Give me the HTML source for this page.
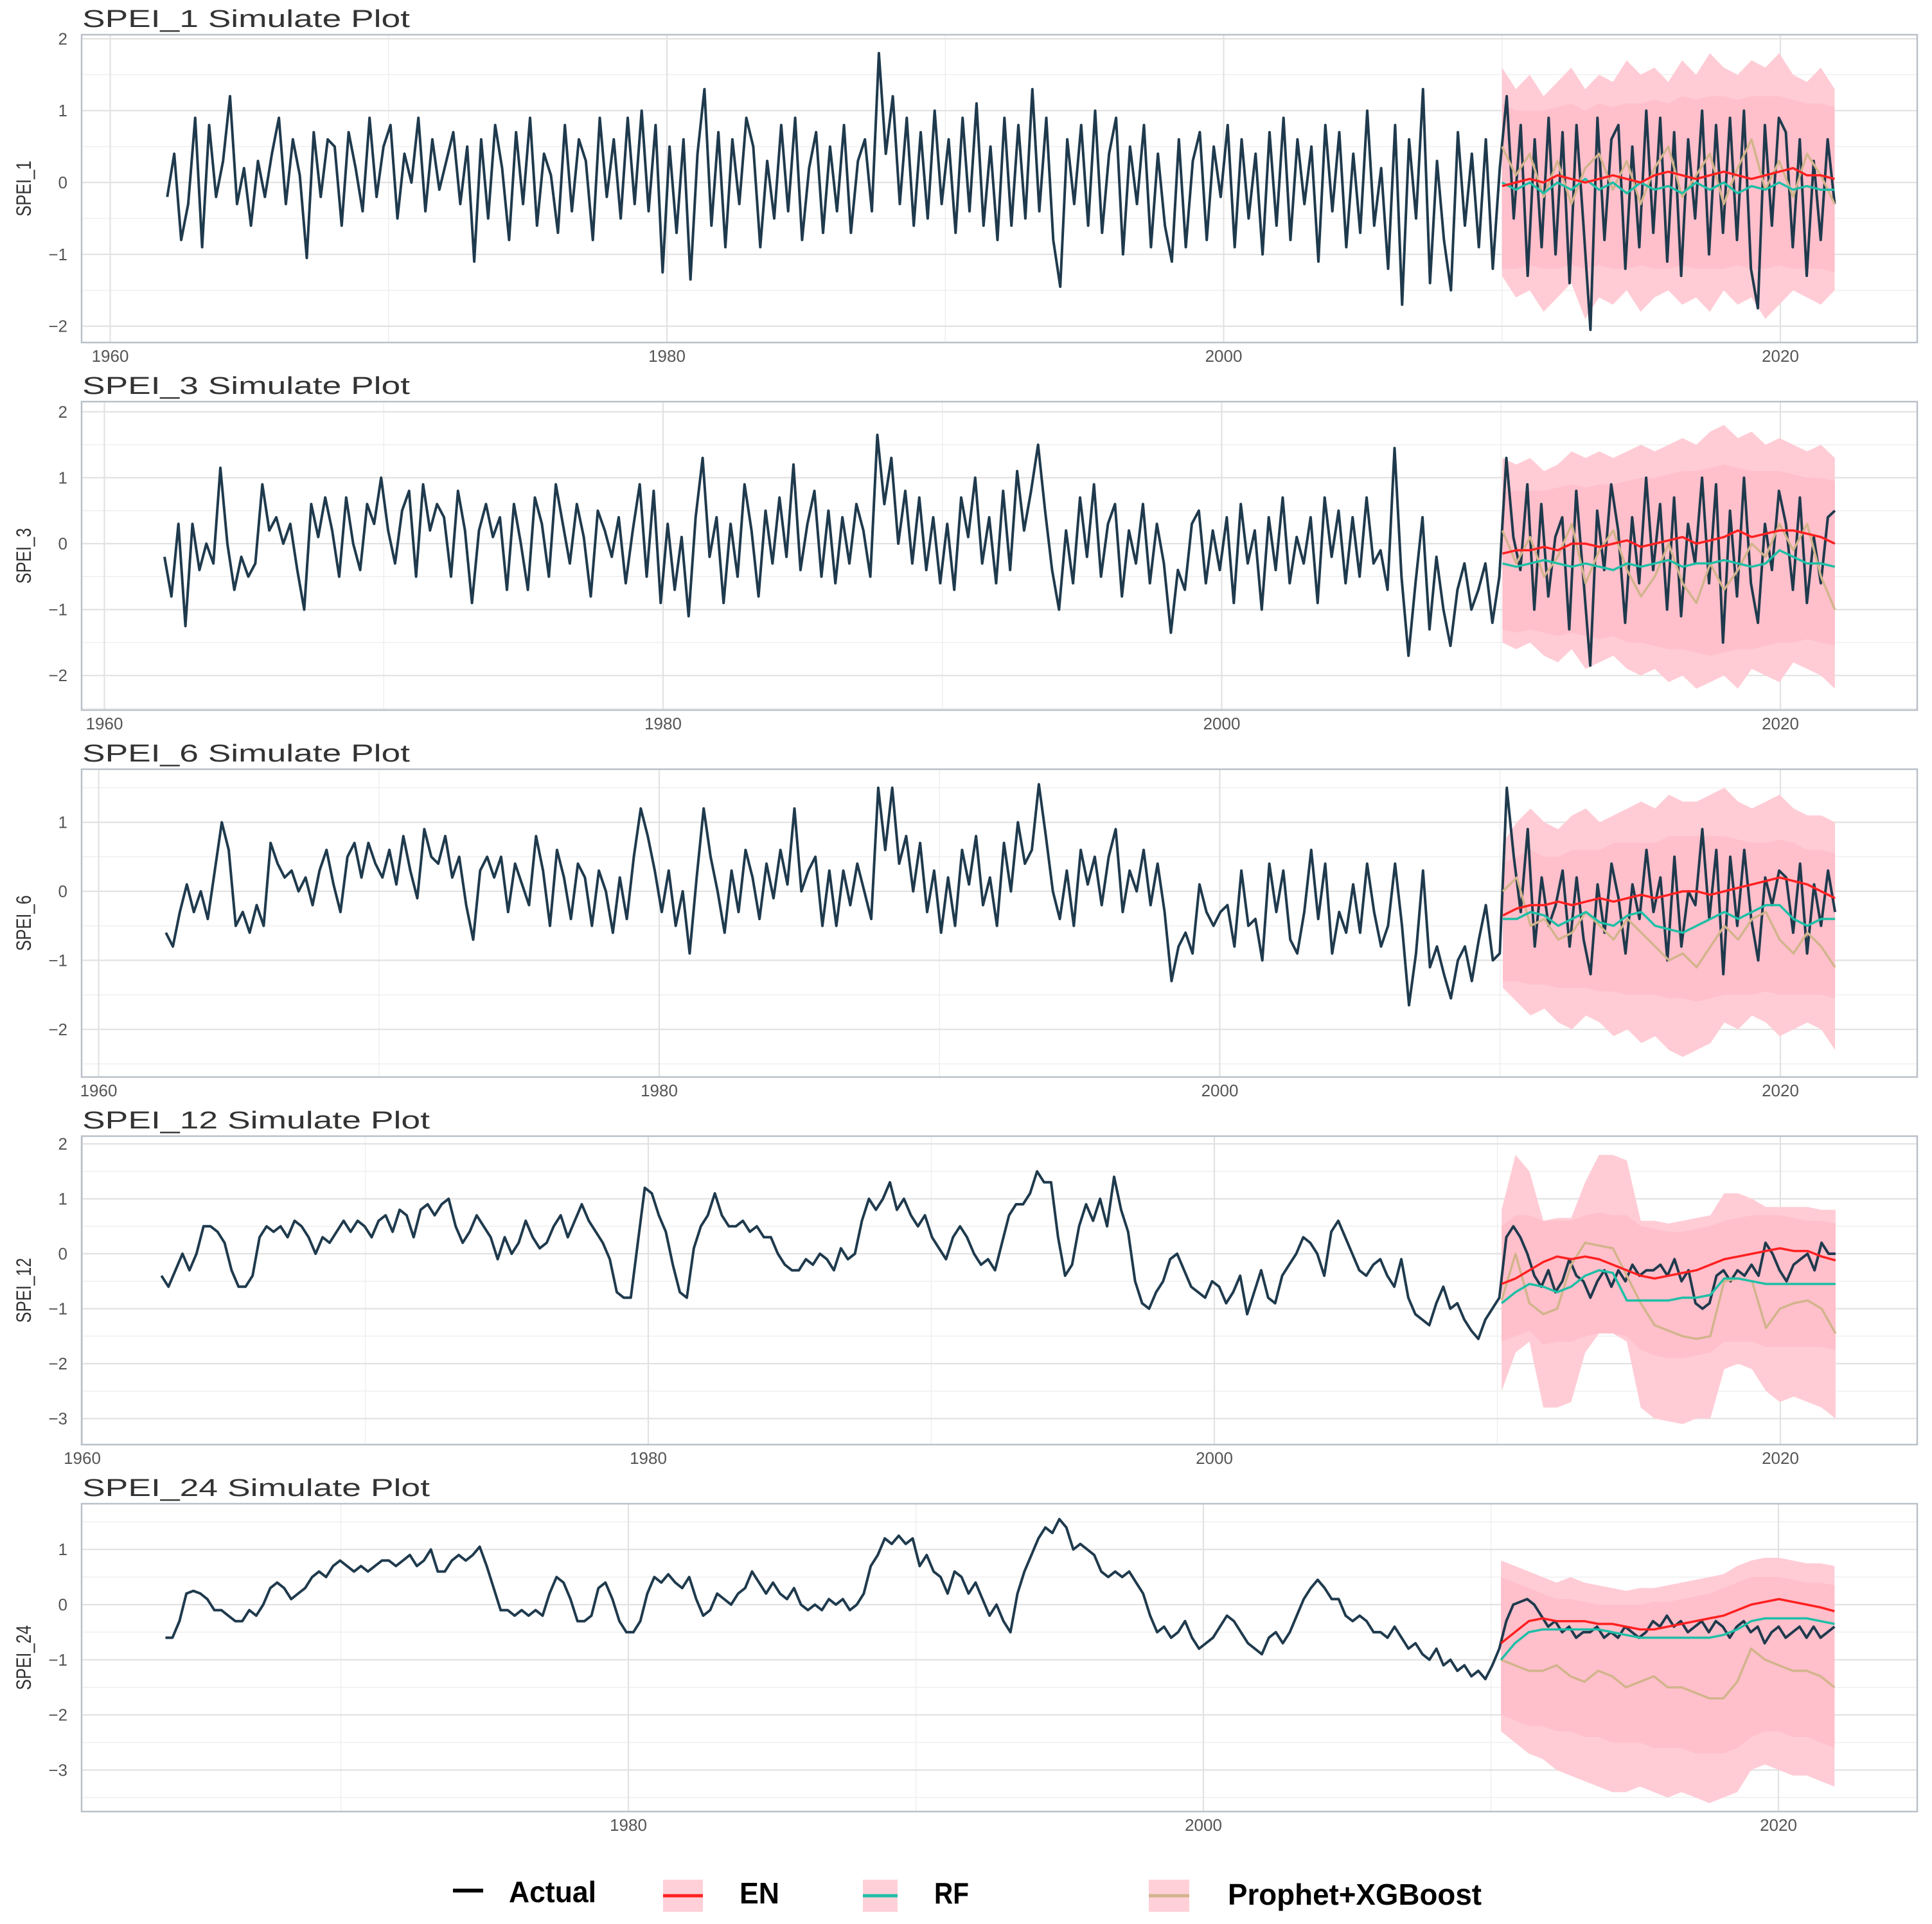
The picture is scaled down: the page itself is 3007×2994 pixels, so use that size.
<!DOCTYPE html>
<html><head><meta charset="utf-8">
<style>
html,body{margin:0;padding:0;background:#fff;}
svg{display:block;font-family:"Liberation Sans",sans-serif;}
</style></head>
<body>
<svg id="chart" width="3007" height="2994" viewBox="0 0 3007 2994" xmlns="http://www.w3.org/2000/svg">
<g font-size="46" fill="#000" font-weight="bold">
  <line x1="705" y1="2942" x2="752" y2="2942" stroke="#000" stroke-width="6"/>
  <text x="792" y="2960" textLength="136" lengthAdjust="spacingAndGlyphs">Actual</text>
  <rect x="1032" y="2925" width="62" height="50" fill="#FFD0D8"/>
  <line x1="1032" y1="2950" x2="1094" y2="2950" stroke="#FF2020" stroke-width="5"/>
  <text x="1151" y="2962" textLength="62" lengthAdjust="spacingAndGlyphs">EN</text>
  <rect x="1343" y="2925" width="54" height="50" fill="#FFD0D8"/>
  <line x1="1343" y1="2950" x2="1397" y2="2950" stroke="#1DBFA6" stroke-width="5"/>
  <text x="1454" y="2962" textLength="54" lengthAdjust="spacingAndGlyphs">RF</text>
  <rect x="1788" y="2925" width="63" height="50" fill="#FFD0D8"/>
  <line x1="1788" y1="2950" x2="1851" y2="2950" stroke="#D2B48C" stroke-width="5"/>
  <text x="1911" y="2964" textLength="395" lengthAdjust="spacingAndGlyphs">Prophet+XGBoost</text>
</g>
</svg>
<script>
const act1=[-0.2,0.4,-0.8,-0.3,0.9,-0.9,0.8,-0.2,0.3,1.2,-0.3,0.2,-0.6,0.3,-0.2,0.4,0.9,-0.3,0.6,0.1,-1.05,0.7,-0.2,0.6,0.5,-0.6,0.7,0.2,-0.4,0.9,-0.2,0.5,0.8,-0.5,0.4,0.0,0.9,-0.4,0.6,-0.1,0.3,0.7,-0.3,0.5,-1.1,0.6,-0.5,0.8,0.2,-0.8,0.7,-0.3,0.9,-0.6,0.4,0.1,-0.7,0.8,-0.4,0.6,0.3,-0.8,0.9,-0.2,0.6,-0.5,0.9,-0.3,1.0,-0.4,0.8,-1.25,0.5,-0.7,0.6,-1.35,0.4,1.3,-0.6,0.7,-0.9,0.6,-0.3,0.9,0.5,-0.9,0.3,-0.5,0.8,-0.4,0.9,-0.8,0.2,0.7,-0.7,0.5,-0.4,0.8,-0.7,0.3,0.6,-0.4,1.8,0.4,1.2,-0.3,0.9,-0.6,0.7,-0.5,1.0,-0.3,0.6,-0.7,0.9,-0.4,1.1,-0.6,0.5,-0.8,0.9,-0.6,0.8,-0.5,1.3,-0.4,0.9,-0.8,-1.45,0.6,-0.3,0.8,-0.6,1.0,-0.7,0.4,0.9,-1.0,0.5,-0.3,0.8,-0.9,0.4,-0.6,-1.1,0.6,-0.9,0.3,0.7,-0.8,0.5,-0.2,0.8,-0.9,0.6,-0.5,0.4,-1.0,0.7,-0.6,0.9,-0.8,0.6,-0.3,0.5,-1.1,0.8,-0.4,0.7,-0.9,0.4,-0.7,1.0,-0.6,0.2,-1.2,0.8,-1.7,0.6,-0.5,1.3,-1.4,0.3,-0.8,-1.5,0.7,-0.6,0.4,-0.9,0.6,-1.2,0.2,1.2,-0.5,0.8,-1.3,0.6,-0.9,0.9,-1.0,0.7,-1.4,0.8,-0.6,-2.05,0.9,-0.8,0.6,0.8,-1.2,0.5,-0.9,1.0,-0.7,0.9,-1.1,0.7,-1.3,0.6,-0.5,1.0,-1.0,0.8,-0.7,0.9,-0.8,1.0,-1.2,-1.75,0.8,-0.6,0.9,0.7,-0.9,0.6,-1.3,0.3,-0.8,0.6,-0.3];
const act3=[-0.2,-0.8,0.3,-1.25,0.3,-0.4,0.0,-0.3,1.15,0.0,-0.7,-0.2,-0.5,-0.3,0.9,0.2,0.4,0.0,0.3,-0.4,-1.0,0.6,0.1,0.7,0.2,-0.5,0.7,0.0,-0.4,0.6,0.3,1.0,0.2,-0.3,0.5,0.8,-0.5,0.9,0.2,0.6,0.4,-0.5,0.8,0.2,-0.9,0.2,0.6,0.1,0.4,-0.7,0.6,0.0,-0.7,0.7,0.3,-0.5,0.9,0.3,-0.3,0.6,0.1,-0.8,0.5,0.2,-0.2,0.4,-0.6,0.2,0.9,-0.5,0.8,-0.9,0.3,-0.7,0.1,-1.1,0.4,1.3,-0.2,0.4,-0.9,0.3,-0.5,0.9,0.2,-0.8,0.5,-0.3,0.7,-0.2,1.2,-0.4,0.3,0.8,-0.5,0.5,-0.6,0.4,-0.3,0.6,0.2,-0.5,1.65,0.6,1.3,0.0,0.8,-0.3,0.7,-0.4,0.4,-0.6,0.3,-0.7,0.7,0.1,1.0,-0.3,0.4,-0.6,0.8,-0.4,1.1,0.2,0.8,1.5,0.5,-0.4,-1.0,0.2,-0.6,0.7,-0.2,0.9,-0.5,0.3,0.6,-0.8,0.2,-0.3,0.6,-0.6,0.3,-0.3,-1.35,-0.4,-0.7,0.3,0.5,-0.6,0.2,-0.4,0.4,-0.9,0.6,-0.3,0.2,-1.0,0.4,-0.4,0.7,-0.6,0.1,-0.3,0.4,-0.9,0.7,-0.2,0.5,-0.6,0.4,-0.5,0.7,-0.3,-0.1,-0.7,1.45,-0.5,-1.7,-0.6,0.4,-1.3,-0.2,-1.0,-1.55,-0.7,-0.3,-1.0,-0.7,-0.3,-1.2,-0.5,1.3,0.1,-0.4,0.9,-1.0,0.6,-0.8,0.1,0.4,-1.3,0.8,-0.5,-1.85,0.5,-0.4,0.9,0.2,-1.2,0.4,-0.6,1.0,-0.4,0.6,-1.0,0.7,-1.1,0.3,-0.3,1.0,-0.6,0.9,-1.5,0.5,-0.8,1.0,-0.6,-1.2,0.3,-0.4,0.8,0.3,-0.7,0.7,-0.9,0.1,-0.6,0.4,0.5];
const act6=[-0.6,-0.8,-0.3,0.1,-0.3,0.0,-0.4,0.3,1.0,0.6,-0.5,-0.3,-0.6,-0.2,-0.5,0.7,0.4,0.2,0.3,0.0,0.2,-0.2,0.3,0.6,0.1,-0.3,0.5,0.7,0.2,0.7,0.4,0.2,0.6,0.1,0.8,0.3,-0.1,0.9,0.5,0.4,0.8,0.2,0.5,-0.2,-0.7,0.3,0.5,0.2,0.5,-0.3,0.4,0.1,-0.2,0.8,0.3,-0.5,0.6,0.2,-0.4,0.4,0.2,-0.5,0.3,0.0,-0.6,0.2,-0.4,0.5,1.2,0.8,0.3,-0.3,0.3,-0.5,0.0,-0.9,0.2,1.2,0.5,0.0,-0.6,0.3,-0.3,0.6,0.2,-0.4,0.4,-0.1,0.6,0.1,1.2,0.0,0.3,0.5,-0.5,0.3,-0.5,0.3,-0.2,0.4,0.0,-0.4,1.5,0.6,1.5,0.4,0.8,0.0,0.7,-0.3,0.3,-0.6,0.2,-0.5,0.6,0.1,0.8,-0.2,0.2,-0.5,0.7,0.0,1.0,0.4,0.6,1.55,0.8,0.0,-0.4,0.3,-0.5,0.6,0.1,0.5,-0.2,0.5,0.9,-0.3,0.3,0.0,0.6,-0.2,0.4,-0.3,-1.3,-0.8,-0.6,-0.9,0.1,-0.3,-0.5,-0.3,-0.2,-0.8,0.3,-0.5,-0.4,-1.0,0.4,-0.3,0.3,-0.7,-0.9,-0.3,0.6,-0.4,0.4,-0.9,-0.3,-0.6,0.1,-0.6,0.4,-0.3,-0.8,-0.5,0.4,-0.5,-1.65,-0.9,0.3,-1.1,-0.8,-1.2,-1.55,-1.0,-0.8,-1.3,-0.7,-0.2,-1.0,-0.9,1.5,0.5,-0.3,0.9,-0.8,0.2,-0.5,-0.2,0.3,-0.8,0.2,-0.7,-1.2,0.1,-0.6,0.4,-0.1,-0.9,0.1,-0.4,0.6,-0.3,0.2,-1.0,0.5,-0.8,0.0,-0.2,0.9,-0.4,0.6,-1.2,0.5,-0.5,0.6,-0.4,-1.0,0.2,-0.2,0.3,0.2,-0.6,0.4,-0.9,0.1,-0.5,0.3,-0.3];
const act12=[-0.4,-0.6,-0.3,0.0,-0.3,0.0,0.5,0.5,0.4,0.2,-0.3,-0.6,-0.6,-0.4,0.3,0.5,0.4,0.5,0.3,0.6,0.5,0.3,0.0,0.3,0.2,0.4,0.6,0.4,0.6,0.5,0.3,0.6,0.7,0.4,0.8,0.7,0.3,0.8,0.9,0.7,0.9,1.0,0.5,0.2,0.4,0.7,0.5,0.3,-0.1,0.3,0.0,0.2,0.6,0.3,0.1,0.2,0.5,0.7,0.3,0.6,0.9,0.6,0.4,0.2,-0.1,-0.7,-0.8,-0.8,0.2,1.2,1.1,0.7,0.4,-0.2,-0.7,-0.8,0.1,0.5,0.7,1.1,0.7,0.5,0.5,0.6,0.4,0.5,0.3,0.3,0.0,-0.2,-0.3,-0.3,-0.1,-0.2,0.0,-0.1,-0.3,0.1,-0.1,0.0,0.6,1.0,0.8,1.0,1.3,0.8,1.0,0.7,0.5,0.7,0.3,0.1,-0.1,0.3,0.5,0.3,0.0,-0.2,-0.1,-0.3,0.2,0.7,0.9,0.9,1.1,1.5,1.3,1.3,0.3,-0.4,-0.2,0.5,0.9,0.6,1.0,0.5,1.4,0.8,0.4,-0.5,-0.9,-1.0,-0.7,-0.5,-0.1,0.0,-0.3,-0.6,-0.7,-0.8,-0.5,-0.6,-0.9,-0.7,-0.4,-1.1,-0.7,-0.3,-0.8,-0.9,-0.4,-0.2,0.0,0.3,0.2,0.0,-0.4,0.4,0.6,0.3,0.0,-0.3,-0.4,-0.2,-0.1,-0.4,-0.6,-0.1,-0.8,-1.1,-1.2,-1.3,-0.9,-0.6,-1.0,-0.9,-1.2,-1.4,-1.55,-1.2,-1.0,-0.8,0.3,0.5,0.3,0.0,-0.4,-0.6,-0.3,-0.7,-0.5,-0.1,-0.4,-0.5,-0.8,-0.5,-0.3,-0.6,-0.3,-0.5,-0.2,-0.4,-0.3,-0.3,-0.2,-0.4,-0.1,-0.5,-0.3,-0.9,-1.0,-0.9,-0.4,-0.3,-0.5,-0.3,-0.4,-0.2,-0.4,0.2,0.0,-0.3,-0.5,-0.2,-0.1,0.0,-0.3,0.2,0.0,0.0];
const act24=[-0.6,-0.6,-0.3,0.2,0.25,0.2,0.1,-0.1,-0.1,-0.2,-0.3,-0.3,-0.1,-0.2,0.0,0.3,0.4,0.3,0.1,0.2,0.3,0.5,0.6,0.5,0.7,0.8,0.7,0.6,0.7,0.6,0.7,0.8,0.8,0.7,0.8,0.9,0.7,0.8,1.0,0.6,0.6,0.8,0.9,0.8,0.9,1.05,0.7,0.3,-0.1,-0.1,-0.2,-0.1,-0.2,-0.1,-0.2,0.2,0.5,0.4,0.1,-0.3,-0.3,-0.2,0.3,0.4,0.1,-0.3,-0.5,-0.5,-0.3,0.2,0.5,0.4,0.55,0.4,0.3,0.5,0.1,-0.2,-0.1,0.2,0.1,0.0,0.2,0.3,0.6,0.4,0.2,0.4,0.2,0.1,0.3,0.0,-0.1,0.0,-0.1,0.1,0.0,0.1,-0.1,0.0,0.2,0.7,0.9,1.2,1.1,1.25,1.1,1.2,0.7,0.9,0.6,0.5,0.2,0.6,0.5,0.2,0.4,0.1,-0.2,0.0,-0.3,-0.5,0.2,0.6,0.9,1.2,1.4,1.3,1.55,1.4,1.0,1.1,1.0,0.9,0.6,0.5,0.6,0.5,0.6,0.4,0.2,-0.2,-0.5,-0.4,-0.6,-0.5,-0.3,-0.6,-0.8,-0.7,-0.6,-0.4,-0.2,-0.3,-0.5,-0.7,-0.8,-0.9,-0.6,-0.5,-0.7,-0.5,-0.2,0.1,0.3,0.45,0.3,0.1,0.1,-0.2,-0.3,-0.2,-0.3,-0.5,-0.5,-0.6,-0.4,-0.6,-0.8,-0.7,-0.9,-1.0,-0.8,-1.1,-1.0,-1.2,-1.1,-1.3,-1.2,-1.35,-1.1,-0.8,-0.3,0.0,0.05,0.1,0.0,-0.2,-0.4,-0.3,-0.5,-0.4,-0.6,-0.5,-0.5,-0.4,-0.6,-0.5,-0.6,-0.4,-0.5,-0.6,-0.5,-0.3,-0.4,-0.2,-0.4,-0.3,-0.5,-0.4,-0.3,-0.5,-0.3,-0.4,-0.6,-0.4,-0.3,-0.5,-0.4,-0.7,-0.5,-0.4,-0.6,-0.5,-0.4,-0.6,-0.4,-0.6,-0.5,-0.4];

const en1=[-0.05,0.0,0.05,0.0,0.1,0.05,0.0,0.05,0.1,0.05,0.0,0.1,0.15,0.1,0.05,0.1,0.15,0.1,0.05,0.1,0.15,0.2,0.1,0.1,0.05];
const rf1=[0.0,-0.1,0.0,-0.15,0.0,-0.1,0.05,-0.1,0.0,-0.15,0.0,-0.1,-0.05,-0.15,0.0,-0.1,0.0,-0.15,-0.05,-0.1,0.0,-0.1,-0.05,-0.1,-0.1];
const px1=[0.5,0.1,0.4,-0.2,0.3,-0.3,0.2,0.4,-0.1,0.3,-0.3,0.2,0.5,-0.2,0.1,0.4,-0.3,0.2,0.6,-0.1,0.3,-0.2,0.4,0.1,-0.3];
const hiO1=[1.6,1.3,1.5,1.2,1.4,1.6,1.3,1.5,1.4,1.7,1.5,1.6,1.4,1.7,1.5,1.8,1.6,1.5,1.7,1.6,1.8,1.5,1.4,1.6,1.3];
const hiI1=[1.1,1.0,1.0,1.0,1.05,1.1,1.0,1.1,1.05,1.1,1.1,1.15,1.1,1.2,1.15,1.2,1.2,1.15,1.2,1.2,1.2,1.15,1.1,1.1,1.05];
const loI1=[-1.2,-1.2,-1.15,-1.2,-1.2,-1.15,-1.2,-1.15,-1.2,-1.2,-1.15,-1.2,-1.2,-1.15,-1.2,-1.2,-1.2,-1.15,-1.2,-1.2,-1.15,-1.2,-1.2,-1.2,-1.25];
const loO1=[-1.3,-1.6,-1.5,-1.8,-1.6,-1.4,-1.9,-1.6,-1.7,-1.5,-1.8,-1.6,-1.5,-1.7,-1.6,-1.8,-1.5,-1.7,-1.6,-1.9,-1.7,-1.5,-1.6,-1.7,-1.5];

const en2=[-0.15,-0.1,-0.1,-0.05,-0.1,0.0,0.0,-0.05,0.0,0.05,-0.05,0.0,0.05,0.1,0.0,0.05,0.1,0.2,0.1,0.15,0.2,0.2,0.15,0.1,0.0];
const rf2=[-0.3,-0.35,-0.3,-0.25,-0.3,-0.35,-0.3,-0.35,-0.4,-0.3,-0.35,-0.3,-0.25,-0.35,-0.3,-0.3,-0.25,-0.3,-0.35,-0.3,-0.1,-0.2,-0.3,-0.3,-0.35];
const px2=[0.2,-0.3,0.1,-0.5,-0.2,0.3,-0.6,-0.1,0.2,-0.4,-0.8,-0.5,0.0,-0.6,-0.9,-0.3,-0.7,-0.4,0.0,-0.2,0.3,-0.1,0.3,-0.5,-1.0];
const hiO2=[1.3,1.2,1.3,1.1,1.2,1.4,1.3,1.4,1.3,1.4,1.5,1.4,1.5,1.6,1.5,1.7,1.8,1.6,1.7,1.5,1.6,1.5,1.4,1.5,1.3];
const hiI2=[0.8,0.8,0.8,0.8,0.85,0.9,0.85,0.9,0.9,0.95,1.0,1.0,1.05,1.1,1.1,1.15,1.2,1.15,1.1,1.1,1.1,1.05,1.0,1.0,0.95];
const loI2=[-1.3,-1.35,-1.3,-1.35,-1.4,-1.35,-1.4,-1.45,-1.4,-1.5,-1.5,-1.55,-1.6,-1.6,-1.65,-1.7,-1.65,-1.6,-1.6,-1.55,-1.5,-1.5,-1.45,-1.5,-1.55];
const loO2=[-1.5,-1.6,-1.5,-1.7,-1.8,-1.6,-1.9,-1.8,-1.7,-1.9,-2.0,-1.9,-2.1,-2.0,-2.2,-2.1,-2.0,-2.2,-1.9,-2.0,-2.1,-1.8,-1.9,-2.0,-2.2];

const en3=[-0.35,-0.25,-0.2,-0.2,-0.15,-0.2,-0.15,-0.1,-0.15,-0.1,-0.05,-0.1,-0.05,0.0,0.0,-0.05,0.0,0.05,0.1,0.15,0.2,0.15,0.1,0.0,-0.1];
const rf3=[-0.4,-0.4,-0.3,-0.35,-0.5,-0.4,-0.3,-0.45,-0.5,-0.35,-0.3,-0.5,-0.55,-0.6,-0.5,-0.4,-0.3,-0.4,-0.3,-0.2,-0.2,-0.4,-0.5,-0.4,-0.4];
const px3=[0.0,0.2,-0.5,-0.4,-0.7,-0.6,-0.3,-0.5,-0.7,-0.4,-0.6,-0.8,-1.0,-0.9,-1.1,-0.8,-0.5,-0.7,-0.4,-0.3,-0.7,-0.9,-0.6,-0.8,-1.1];
const hiO3=[0.7,1.0,1.2,1.0,0.9,1.1,1.2,1.0,1.1,1.2,1.3,1.2,1.4,1.3,1.3,1.4,1.5,1.3,1.2,1.3,1.4,1.2,1.1,1.1,1.0];
const hiI3=[0.4,0.5,0.6,0.5,0.5,0.6,0.6,0.6,0.7,0.7,0.7,0.7,0.8,0.8,0.8,0.8,0.8,0.75,0.7,0.7,0.75,0.7,0.6,0.6,0.55];
const loI3=[-1.3,-1.3,-1.35,-1.35,-1.4,-1.4,-1.4,-1.45,-1.45,-1.5,-1.5,-1.5,-1.55,-1.55,-1.6,-1.55,-1.5,-1.5,-1.5,-1.45,-1.5,-1.5,-1.5,-1.5,-1.55];
const loO3=[-1.4,-1.6,-1.8,-1.7,-1.9,-2.0,-1.8,-1.9,-2.1,-2.0,-2.2,-2.1,-2.3,-2.4,-2.3,-2.2,-1.9,-2.0,-1.8,-1.9,-2.1,-2.0,-1.9,-2.0,-2.3];

const en4=[-0.55,-0.45,-0.3,-0.15,-0.05,-0.1,-0.05,-0.1,-0.2,-0.3,-0.4,-0.45,-0.4,-0.35,-0.3,-0.2,-0.1,-0.05,0.0,0.05,0.1,0.05,0.05,-0.05,-0.12];
const rf4=[-0.9,-0.7,-0.55,-0.6,-0.7,-0.6,-0.4,-0.3,-0.35,-0.85,-0.85,-0.85,-0.85,-0.8,-0.8,-0.75,-0.45,-0.45,-0.5,-0.55,-0.55,-0.55,-0.55,-0.55,-0.55];
const px4=[-0.85,0.0,-0.9,-1.1,-1.0,-0.2,0.2,0.15,0.1,-0.4,-0.9,-1.3,-1.4,-1.5,-1.55,-1.5,-0.5,-0.45,-0.5,-1.35,-1.0,-0.9,-0.85,-1.0,-1.45];
const hiO4=[0.8,1.8,1.5,0.6,0.65,0.65,1.3,1.8,1.8,1.7,0.6,0.6,0.55,0.6,0.65,0.7,1.1,1.1,1.0,0.85,0.85,0.85,0.85,0.8,0.8];
const hiI4=[0.5,0.7,0.7,0.6,0.6,0.6,0.7,0.75,0.7,0.7,0.5,0.45,0.4,0.4,0.45,0.5,0.6,0.65,0.7,0.7,0.7,0.65,0.6,0.6,0.55];
const loI4=[-1.6,-1.5,-1.4,-1.65,-1.6,-1.6,-1.5,-1.45,-1.45,-1.5,-1.75,-1.85,-1.9,-1.9,-1.85,-1.8,-1.6,-1.6,-1.6,-1.7,-1.7,-1.7,-1.7,-1.7,-1.75];
const loO4=[-2.5,-1.8,-1.6,-2.8,-2.8,-2.7,-1.8,-1.45,-1.45,-1.6,-2.8,-3.0,-3.05,-3.1,-3.0,-3.0,-2.1,-2.0,-2.1,-2.5,-2.7,-2.6,-2.7,-2.8,-3.0];

const en5=[-0.7,-0.5,-0.3,-0.25,-0.3,-0.3,-0.3,-0.35,-0.35,-0.4,-0.45,-0.45,-0.4,-0.35,-0.3,-0.25,-0.2,-0.1,0.0,0.05,0.1,0.05,0.0,-0.05,-0.12];
const rf5=[-1.0,-0.7,-0.5,-0.45,-0.45,-0.45,-0.45,-0.45,-0.5,-0.55,-0.6,-0.6,-0.6,-0.6,-0.6,-0.6,-0.55,-0.45,-0.3,-0.25,-0.25,-0.25,-0.25,-0.3,-0.35];
const px5=[-1.0,-1.1,-1.2,-1.2,-1.1,-1.3,-1.4,-1.2,-1.3,-1.5,-1.4,-1.3,-1.5,-1.5,-1.6,-1.7,-1.7,-1.4,-0.8,-1.0,-1.1,-1.2,-1.2,-1.3,-1.5];
const hiO5=[0.8,0.7,0.6,0.5,0.4,0.5,0.4,0.35,0.3,0.25,0.3,0.3,0.35,0.4,0.45,0.5,0.55,0.7,0.8,0.85,0.85,0.8,0.75,0.75,0.7];
const hiI5=[0.5,0.4,0.3,0.2,0.1,0.1,0.05,0.0,0.0,0.0,0.0,0.05,0.05,0.1,0.15,0.2,0.3,0.4,0.5,0.5,0.5,0.45,0.4,0.4,0.35];
const loI5=[-2.0,-2.1,-2.2,-2.2,-2.3,-2.3,-2.4,-2.4,-2.5,-2.5,-2.5,-2.6,-2.6,-2.6,-2.7,-2.7,-2.7,-2.6,-2.4,-2.3,-2.3,-2.4,-2.4,-2.5,-2.6];
const loO5=[-2.3,-2.5,-2.7,-2.8,-3.0,-3.1,-3.2,-3.3,-3.4,-3.4,-3.3,-3.4,-3.5,-3.4,-3.5,-3.6,-3.5,-3.4,-3.0,-2.9,-3.0,-3.1,-3.1,-3.2,-3.3];

const xTicks=[1960,1980,2000,2020];
const endYear=2021.95;

const NS='http://www.w3.org/2000/svg';
const svg=document.getElementById('chart');
function mk(tag,attrs,parent){const e=document.createElementNS(NS,tag);for(const k in attrs)e.setAttribute(k,attrs[k]);(parent||svg).appendChild(e);return e;}

const panels=[
 {name:'SPEI_1',tw:510,top:54,bot:533,x80:1038,x20:2771,y0:284,u:111.8,a0:1962.05,f0:2010.0,yt:[-2,-1,0,1,2],xt:xTicks,act:act1,en:en1,rf:rf1,px:px1,hO:hiO1,hI:hiI1,lI:loI1,lO:loO1},
 {name:'SPEI_3',tw:510,top:625,bot:1105,x80:1032,x20:2771,y0:846,u:102.6,a0:1962.15,f0:2010.05,yt:[-2,-1,0,1,2],xt:xTicks,act:act3,en:en2,rf:rf2,px:px2,hO:hiO2,hI:hiI2,lI:loI2,lO:loO2},
 {name:'SPEI_6',tw:510,top:1197,bot:1676,x80:1026,x20:2771,y0:1387,u:107.4,a0:1962.4,f0:2010.1,yt:[-2,-1,0,1],xt:xTicks,act:act6,en:en3,rf:rf3,px:px3,hO:hiO3,hI:hiI3,lI:loI3,lO:loO3},
 {name:'SPEI_12',tw:541,top:1768,bot:2248,x80:1009,x20:2771,y0:1951,u:85.5,a0:1962.8,f0:2010.15,yt:[-3,-2,-1,0,1,2],xt:xTicks,act:act12,en:en4,rf:rf4,px:px4,hO:hiO4,hI:hiI4,lI:loI4,lO:loO4},
 {name:'SPEI_24',tw:541,top:2340,bot:2819,x80:978,x20:2768,y0:2497,u:85.8,a0:1963.9,f0:2010.35,yt:[-3,-2,-1,0,1],xt:[1980,2000,2020],act:act24,en:en5,rf:rf5,px:px5,hO:hiO5,hI:hiI5,lI:loI5,lO:loO5}
];
const L=127,R=2984;

panels.forEach((p,pi)=>{
  const key=p.name.toLowerCase().replace('_','');
  const g=mk('g',{});
  
  
  const X=y=>p.x80+(y-1980)*(p.x20-p.x80)/40;
  const Y=v=>p.y0-v*p.u;
  const aStep=(endYear-p.a0)/(p.act.length-1);
  const fStep=(endYear-p.f0)/(p.en.length-1);
  const clipId='clip'+pi;
  const cp=mk('clipPath',{id:clipId},g);mk('rect',{x:L,y:p.top,width:R-L,height:p.bot-p.top},cp);
  for(let v=-4;v<=3;v+=0.5){if(Number.isInteger(v))continue;const y=Y(v);if(y>p.top&&y<p.bot)mk('line',{x1:L,x2:R,y1:y,y2:y,stroke:'#EFEFEF','stroke-width':1.5},g);}
  for(let yr=1950;yr<=2030;yr+=10){if(yr%20===0)continue;const x=X(yr);if(x>L&&x<R)mk('line',{x1:x,x2:x,y1:p.top,y2:p.bot,stroke:'#EFEFEF','stroke-width':1.5},g);}
  p.yt.forEach(v=>{const y=Y(v);mk('line',{x1:L,x2:R,y1:y,y2:y,stroke:'#E2E2E2','stroke-width':2.2},g);
    const t=mk('text',{x:105,y:y+9,'text-anchor':'end','font-size':26,fill:'#555'},g);t.textContent=v<0?'\u2212'+Math.abs(v):String(v);
    
    });
  p.xt.forEach(yr=>{const x=X(yr);if(x>L&&x<R)mk('line',{x1:x,x2:x,y1:p.top,y2:p.bot,stroke:'#E2E2E2','stroke-width':2.2},g);
    const t=mk('text',{x:x,y:p.bot+30,'text-anchor':'middle','font-size':26,fill:'#555'},g);t.textContent=yr;
    
    });
  const plot=mk('g',{'clip-path':'url(#'+clipId+')'},g);
  function band(hi,lo,fill,nm){
    let d='';hi.forEach((v,i)=>{d+=(i?'L':'M')+X(p.f0+i*fStep).toFixed(1)+','+Y(v).toFixed(1);});
    for(let i=lo.length-1;i>=0;i--)d+='L'+X(p.f0+i*fStep).toFixed(1)+','+Y(lo[i]).toFixed(1);
    const e=mk('path',{d:d+'Z',fill:fill},plot);
    
    }
  band(p.hO,p.lO,'#FFCCD5','outer-prediction-band');
  band(p.hI,p.lI,'#FFBFCB','inner-prediction-band');
  function line(arr,start,step,color,w,nm){
    const d=arr.map((v,i)=>(i?'L':'M')+X(start+i*step).toFixed(1)+','+Y(v).toFixed(1)).join('');
    const e=mk('path',{d:d,fill:'none',stroke:color,'stroke-width':w,'stroke-linejoin':'round'},plot);
    
    }
  line(p.act,p.a0,aStep,'#1F3A4D',4,'actual-line');
  line(p.px,p.f0,fStep,'#D2B48C',3.5,'prophet-xgboost-line');
  line(p.rf,p.f0,fStep,'#1DBFA6',3.5,'rf-line');
  line(p.en,p.f0,fStep,'#FF2020',3.5,'en-line');
  mk('rect',{x:L,y:p.top,width:R-L,height:p.bot-p.top,fill:'none',stroke:'#B9C0C8','stroke-width':2.5},g);
  const t=mk('text',{x:128,y:p.top-12,'font-size':38,fill:'#333',textLength:p.tw,lengthAdjust:'spacingAndGlyphs'},g);t.textContent=p.name+' Simulate Plot';
  
  
  const cy=(p.top+p.bot)/2;
  const yt=mk('text',{x:0,y:0,'font-size':32,fill:'#333','text-anchor':'middle',transform:'translate(48,'+cy+') rotate(-90) scale(0.8,1)'},g);
  yt.textContent=p.name;
  
  
});
</script>
</body></html>
